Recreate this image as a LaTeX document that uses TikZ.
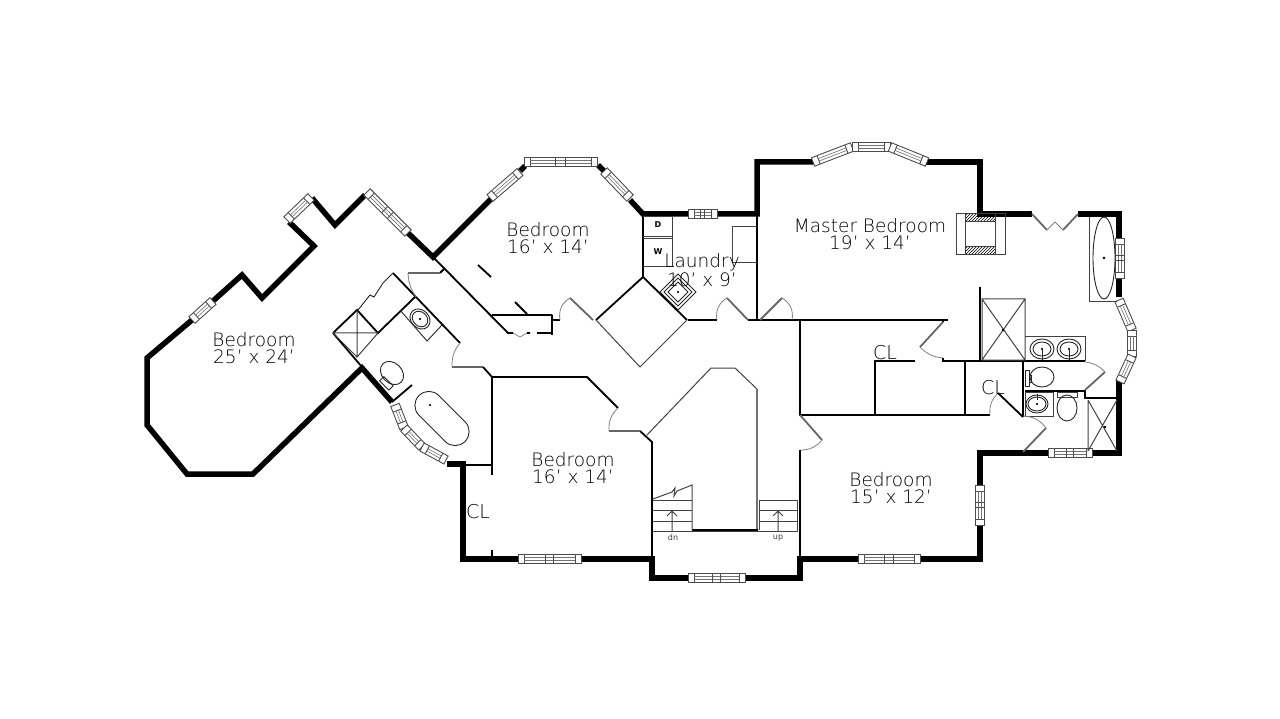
\documentclass[tikz,border=0pt]{standalone}
\usepackage{fontspec}
\setmainfont{DejaVu Sans ExtraLight}
\newfontfamily\tagfont{DejaVu Sans}
\usetikzlibrary{calc,patterns}
\tikzset{
  wall/.style={line width=5.5pt,miter limit=10},
  partition/.style={line width=1.8pt},
  thinwall/.style={line width=1pt,black!75},
  leaf/.style={line width=1.8pt,black!60},
  swing/.style={line width=.8pt,black!50},
  fixture/.style={line width=.9pt,black!85},
  winframe/.style={line width=.9pt,black!70,fill=white},
  winline/.style={line width=.6pt,black!55},
  roomlabel/.style={align=center,text=black,font=\fontsize{18.5}{16.5}\selectfont},
  cllabel/.style={text=black,font=\fontsize{19}{19}\selectfont},
  smalllabel/.style={text=black!75,font=\tagfont\fontsize{8}{8}\selectfont},
  applabel/.style={text=black,font=\tagfont\bfseries\fontsize{8}{8}\selectfont}
}
\newcommand{\winrun}[2]{%
  \draw[winframe] ($(#1)!4.5pt!90:(#2)$) -- ($(#1)!4.5pt!-90:(#2)$) -- ($(#2)!4.5pt!90:(#1)$) -- ($(#2)!4.5pt!-90:(#1)$) -- cycle;
  \draw[winframe] ($($(#1)!6pt!(#2)$)!4.5pt!90:(#2)$) -- ($($(#1)!6pt!(#2)$)!4.5pt!-90:(#2)$);
  \draw[winframe] ($($(#2)!6pt!(#1)$)!4.5pt!90:(#1)$) -- ($($(#2)!6pt!(#1)$)!4.5pt!-90:(#1)$);
  \draw[winline] ($($(#1)!6pt!(#2)$)!1.3pt!90:(#2)$) -- ($($(#2)!6pt!(#1)$)!1.3pt!-90:(#1)$);
  \draw[winline] ($($(#1)!6pt!(#2)$)!1.3pt!-90:(#2)$) -- ($($(#2)!6pt!(#1)$)!1.3pt!90:(#1)$);
}
\newcommand{\winbar}[2]{%
  \winrun{#1}{#2}
  \draw[winframe] ($($(#1)!.43!(#2)$)!4.5pt!90:(#2)$) -- ($($(#1)!.43!(#2)$)!4.5pt!-90:(#2)$);
  \draw[winframe] ($($(#1)!.57!(#2)$)!4.5pt!90:(#2)$) -- ($($(#1)!.57!(#2)$)!4.5pt!-90:(#2)$);
}
\begin{document}
\begin{tikzpicture}[x=1pt,y=-1pt]
\useasboundingbox (0,0) rectangle (1280,719);
% outer walls
\draw [wall] (192,320)--(147,358)--(147,425)--(187,474)--(253,474)--(362,368)--(392,402);
\draw [wall] (213,301)--(242,275)--(262,298)--(314,246)--(289,222);
\draw [wall] (312,198)--(335,225)--(365,195);
\draw [wall] (408,233)--(433,257)--(492,198);
\draw [wall] (520,171)--(525,166) (598,165)--(604,171);
\draw [wall] (630,200)--(643,214)--(757,214)--(757,162)--(815,162);
\draw [wall] (925,162)--(980,162)--(980,214)--(1032,214);
\draw [wall] (1078,214)--(1119,214)--(1119,297);
\draw [wall] (1119,380)--(1119,453)--(980,453)--(980,559)--(800,559)--(800,578)--(652,578)--(652,559)--(463,559)--(463,464)--(447,464);
% windows
\winrun{192,320}{213,301}
\winrun{287,220}{311,197}
\winbar{367,192}{408,233}
\winrun{490,198}{520,172}
\winbar{524,162}{597,162}
\winrun{604,171}{630,198}
\winbar{688,214}{717,214}
\winrun{813,162}{852,147}
\winrun{852,147}{890,147}
\winrun{890,147}{927,162}
\winbar{1120,238}{1120,278}
\winrun{1119,300}{1132,330}
\winrun{1132,330}{1132,356}
\winrun{1132,356}{1120,382}
\winbar{1092,453}{1048,453}
\winbar{980,485}{980,525}
\winbar{920,559}{858,559}
\winbar{745,578}{688,578}
\winbar{581,559}{518,559}
\winrun{395,405}{404,428}
\winrun{404,428}{422,447}
\winrun{422,447}{446,460}
% left bath
\draw [partition] (333,333)--(357,310)--(378,333)--(415,297) (393,273)--(460,343) (333,333)--(362,367);
\draw [partition] (392,402)--(412,385);
\draw [thinwall] (357,310)--(357,357)--(378,333) (333,333)--(378,333) (357,357)--(333,333);
\draw [fixture] (358,310)--(370,295)--(374,297)--(383,283)--(393,273);
\draw [fixture] (400,310)--(427,341)--(442,325);
\draw [fixture,rotate around={-45:(420,319)}] (420,319) ellipse (11 and 9) (420,319) ellipse (8.5 and 7);
\filldraw (420,319) circle[radius=.8];
\draw [fixture,rotate around={-45:(392,373)}] (392,373) ellipse (13 and 10);
\draw [fixture,rotate around={-45:(386,383)}] (380,380) rectangle (393,386);
\node (tubleft) [draw,fixture,fill=white,rotate=-45,minimum width=65,minimum height=28,rounded corners=13.9pt,inner sep=0] at (442,418.5) {};
\filldraw (430,405) circle[radius=.8];
% left bath doors
\draw [partition] (445,268)--(440,273);
\draw [leaf] (440,273)--(408,273);
\draw [swing] (408,273) to[bend right=15] (416,297);
\draw [leaf] (452,367)--(483,367);
\draw [swing] (452,367) to[bend left=20] (460,343);
% hall
\draw [partition] (433,257)--(508,333)--(513,333) (527,333)--(530,333) (537,333)--(552,333) (552,315)--(552,335) (492,315)--(552,315) (515,302)--(527,314) (478,265)--(491,277);
\draw [swing] (513,333)--(520,337)--(527,333);
\draw [partition] (552,320)--(560,320);
\draw [swing] (560,320) to[bend left=35] (570,298);
\draw [leaf] (570,298)--(593,320);
\draw [partition] (596,320)--(643,277)--(687,320) (643,214)--(643,277);
\draw [thinwall] (596,320)--(640,367)--(687,320);
% laundry
\draw [partition] (688,320)--(717,320) (748,320)--(800,320) (757,214)--(757,320);
\draw [swing] (717,320) to[bend left=35] (727,298);
\draw [leaf] (727,298)--(748,320);
\draw [leaf] (760,320)--(782,298);
\draw [swing] (782,298) to[bend left=35] (792,320);
\draw [thinwall] (643,217)--(672,217)--(672,267)--(643,267) (643,237)--(672,237) (643,239)--(672,239);
\draw [thinwall] (757,227)--(732,227)--(732,263)--(757,263);
\foreach \r in {18,14,10} {\draw [fixture] (678,292-\r)--(678+\r,292)--(678,292+\r)--(678-\r,292)--cycle;}
\filldraw (678,292) circle[radius=.8];
% closets
\draw [partition] (800,320)--(948,320) (800,320)--(800,415)--(990,415) (875,361)--(875,415)--(875,361)--(915,361);
\draw [partition] (943,320)--(943,322);
\draw [leaf] (943,322)--(920,347);
\draw [swing] (920,347) to[bend right=20] (943,358);
\draw [partition] (943,358)--(943,361)--(1085,361) (965,361)--(965,415) (1023,361)--(1023,417);
\draw [partition] (998,393)--(1023,417);
\draw [swing] (998,393) to[bend right=25] (990,415);
\draw [leaf] (800,415)--(822,440);
\draw [swing] (822,440) to[bend left=25] (800,450);
\draw [partition] (800,450)--(800,559) (800,360)--(800,415);
% master bath
\draw [partition] (980,287)--(980,361);
\draw [thinwall] (982,299) rectangle (1025,360) (982,360)--(1025,299) (982,299)--(1025,360);
\filldraw (1003,330) circle[radius=1];
\draw [thinwall] (1025,337)--(1085,337)--(1085,361);
\foreach \x in {1042,1069} {\draw [fixture] (\x,349) ellipse (12 and 10) (\x,349) ellipse (9 and 7);\filldraw (\x,349) circle[radius=.8];\draw [fixture] (\x,349)--(\x,360);}
\draw [fixture] (1042,377) ellipse (12 and 10);
\draw [fixture] (1025,370) rectangle (1029,386) (1029,375) rectangle (1031,382);
\draw [partition] (1025,391)--(1085,391)--(1085,398)--(1119,398);
\draw [leaf] (1085,390)--(1105,372);
\draw [swing] (1105,372) to[bend right=20] (1085,362);
\draw [thinwall] (1088,400)--(1088,451) (1117,400)--(1088,451) (1088,400)--(1117,451);
\filldraw (1105,427) circle[radius=1];
\draw [thinwall] (1025,392) rectangle (1053,416);
\draw [fixture] (1037,404) ellipse (11 and 9) (1037,404) ellipse (9 and 7);
\filldraw (1037,404) circle[radius=.8];
\draw [fixture] (1037,394)--(1037,400);
\draw [thinwall] (1057,392) rectangle (1077,397);
\draw [fixture] (1067,408) ellipse (10 and 13);
\draw [swing] (1023,416) to[bend left=25] (1046,428);
\draw [leaf] (1046,428)--(1023,452);
% master tub and fold door
\draw [thinwall] (1089,217)--(1089,302)--(1117,302);
\draw [fixture] (1104,258) ellipse (11 and 41);
\filldraw (1104,258) circle[radius=1.2];
\draw [leaf] (1032,214)--(1047,230) (1078,214)--(1063,230);
\draw [swing] (1047,230)--(1052,225)--(1055,222)--(1058,225)--(1063,230);
% fireplace
\draw [thinwall] (956,214) rectangle (1005,255);
\draw [thinwall] (965,214) rectangle (995,255);
\draw [thinwall,pattern=north east lines] (965,214) rectangle (995,222);
\draw [thinwall,pattern=north east lines] (965,247) rectangle (995,255);
% stairs
\draw [thinwall] (647,435)--(711,368)--(735,368)--(757,389);
\draw [partition,black!55] (757,389)--(757,530);
\draw [partition] (640,431)--(652,442)--(652,559) (692,530)--(758,530);
\draw [thinwall] (653,499)--(672,492)--(675,488)--(674,496)--(677,491)--(692,485)--(692,530);
\foreach \y in {500,510,521,531} {\draw [thinwall] (653,\y)--(692,\y);\draw [thinwall] (759,\y)--(797,\y);}
\draw [thinwall] (759,500)--(759,530) (797,500)--(797,531) (653,531)--(798,531);
\draw [thinwall] (672,531)--(672,511) (667,516)--(672,511)--(677,516);
\draw [thinwall] (778,531)--(778,511) (773,516)--(778,511)--(783,516);
% lower left bedroom
\draw [partition] (483,367)--(492,377)--(587,377)--(618,408);
\draw [swing] (618,408) to[bend right=25] (609,431);
\draw [leaf] (609,431)--(640,431);
\draw [partition] (492,377)--(492,475) (463,465)--(492,465) (492,550)--(492,557);
% labels
\node (bedwest) [roomlabel] at (254,348) {Bedroom\\25' x 24'};
\node (bednorth) [roomlabel] at (548,238) {Bedroom\\16' x 14'};
\node (laundry) [roomlabel] at (702,270) {Laundry\\10' x 9'};
\node (master) [roomlabel] at (870,234) {Master Bedroom\\19' x 14'};
\node (bedsouth) [roomlabel] at (573,468) {Bedroom\\16' x 14'};
\node (bedeast) [roomlabel] at (891,488) {Bedroom\\15' x 12'};
\node (clwest) [cllabel] at (478,512) {CL};
\node (clmid) [cllabel] at (885,353) {CL};
\node (cleast) [cllabel] at (993,388) {CL};
\node (dryer) [applabel] at (658,225) {D};
\node (washer) [applabel] at (658,252) {W};
\node (stairdn) [smalllabel] at (673,538) {dn};
\node (stairup) [smalllabel] at (778,538) {up};
\end{tikzpicture}
\end{document}
